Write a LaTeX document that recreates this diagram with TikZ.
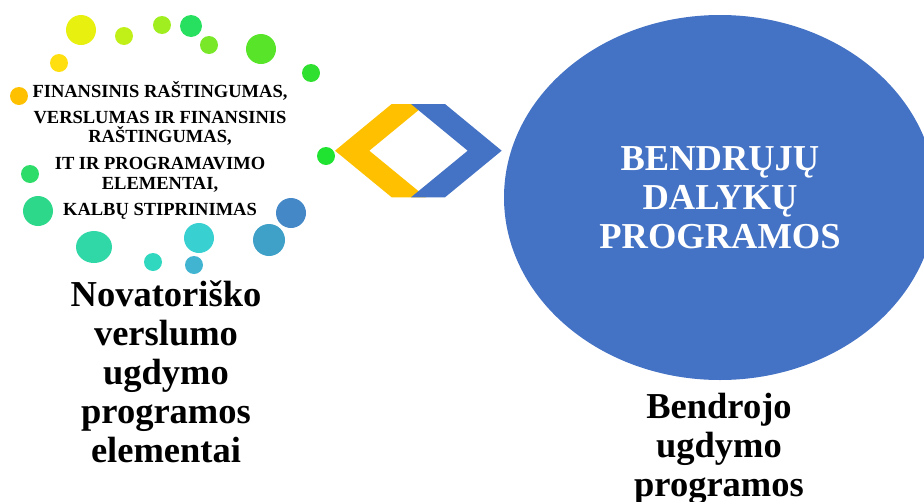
\documentclass[tikz,border=0pt]{standalone}
\usepackage{fontspec}
\setmainfont{Liberation Serif}
\usetikzlibrary{positioning,shapes.geometric}
\definecolor{accblue}{HTML}{4472C4}
\definecolor{accgold}{HTML}{FFC000}

\begin{document}
\begin{tikzpicture}[x=1pt, y=-1pt,
    dot/.style={circle, inner sep=0pt, minimum size=18pt},
    bigdot/.style={dot, minimum size=30pt},
    item/.style={font=\bfseries\fontsize{18.5}{19.4}\selectfont, align=center, inner sep=0pt},
    title/.style={font=\bfseries\fontsize{36.5}{39}\selectfont, align=center, inner sep=0pt}]

\useasboundingbox (0,0) rectangle (924,501);
\clip (0,0) rectangle (924,501);

% ring of dots
\node[dot, fill={rgb,255:red,255;green,192;blue,0}] (d1) at (19,96) {};
\node[dot, fill={rgb,255:red,255;green,223;blue,16}] (d2) at (59,63) {};
\node[bigdot, fill={rgb,255:red,232;green,240;blue,16}] (d3) at (81,30) {};
\node[dot, fill={rgb,255:red,192;green,240;blue,24}] (d4) at (124,36) {};
\node[dot, fill={rgb,255:red,160;green,238;blue,32}] (d5) at (162,25) {};
\node[dot, minimum size=22pt, fill={rgb,255:red,40;green,224;blue,96}] (d6) at (191,26) {};
\node[dot, fill={rgb,255:red,120;green,232;blue,40}] (d7) at (209,45) {};
\node[bigdot, fill={rgb,255:red,88;green,228;blue,40}] (d8) at (261,49) {};
\node[dot, fill={rgb,255:red,48;green,224;blue,48}] (d9) at (311,73) {};
\node[dot, fill={rgb,255:red,32;green,226;blue,48}] (d10) at (326,156) {};
\node[bigdot, fill={rgb,255:red,68;green,136;blue,200}] (d11) at (291,213) {};
\node[dot, minimum size=32pt, fill={rgb,255:red,63;green,160;blue,200}] (d12) at (269,240) {};
\node[bigdot, fill={rgb,255:red,56;green,208;blue,208}] (d13) at (199,238) {};
\node[dot, fill={rgb,255:red,64;green,180;blue,208}] (d14) at (194,265) {};
\node[dot, fill={rgb,255:red,48;green,216;blue,192}] (d15) at (153,262) {};
\node[ellipse, inner sep=0pt, minimum width=36pt, minimum height=32pt,
      fill={rgb,255:red,48;green,216;blue,168}] (d16) at (94,247) {};
\node[bigdot, fill={rgb,255:red,46;green,216;blue,138}] (d17) at (38,211) {};
\node[dot, fill={rgb,255:red,46;green,220;blue,106}] (d18) at (30,174) {};

% list of elements (base = last line)
\node[item, anchor=base] (fin) at (160,97.5) {FINANSINIS RAŠTINGUMAS,};
\node[item, anchor=base] (vers) at (160,142.7) {VERSLUMAS IR FINANSINIS\\RAŠTINGUMAS,};
\node[item, anchor=base] (it) at (160,189) {IT IR PROGRAMAVIMO\\ELEMENTAI,};
\node[item, anchor=base] (kalb) at (160,215) {KALBŲ STIPRINIMAS};

\node[title, anchor=base] (novat) at (166,462) {Novatoriško\\verslumo\\ugdymo\\programos\\elementai};

% opposing chevrons
\fill[accgold] (335,150.7) -- (391.7,104) -- (426,104) -- (369.3,150.7)
    -- (426,197.3) -- (391.7,197.3) -- cycle;
\fill[accblue] (411,104) -- (445,104) -- (501.7,150.7) -- (445,197.3)
    -- (411,197.3) -- (467.7,150.7) -- cycle;

\node[ellipse, fill=accblue, minimum width=432pt, minimum height=365pt,
      inner sep=0pt, title, text=white] (core) at (720,197.5) {BENDRŲJŲ\\DALYKŲ\\PROGRAMOS};

\node[title, anchor=base] (bendr) at (719,496) {Bendrojo\\ugdymo\\programos};

\end{tikzpicture}
\end{document}
